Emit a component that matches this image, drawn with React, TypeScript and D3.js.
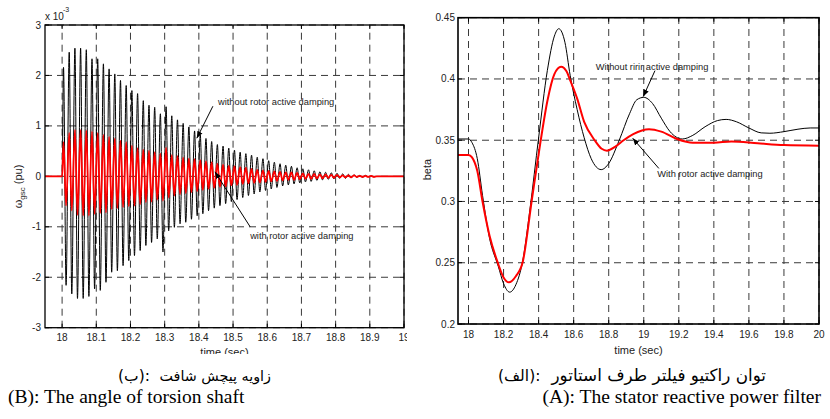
import React, { useLayoutEffect, useRef, useState } from "react";
import * as d3 from "d3";

// ---------- Left panel data (omega_gsc, x 1e-3 pu), one value per oscillation cycle ----------
const BLACK_MAX = [2.16, 2.46, 2.54, 2.54, 2.51, 2.33, 2.33, 2.23, 2.13, 2.03, 1.9, 1.8, 1.7, 1.64, 1.5, 1.41, 1.37, 1.24, 1.38, 1.2, 1.12, 1.05, 0.98, 0.9, 0.82, 0.75, 0.69, 0.63, 0.6, 0.56, 0.52, 0.48, 0.45, 0.42, 0.38, 0.35, 0.31, 0.28, 0.25, 0.22, 0.2, 0.17, 0.15, 0.13, 0.11, 0.09, 0.08, 0.07, 0.06, 0.05, 0.04, 0.03, 0.02, 0.02, 0.01];
const BLACK_MIN = [-2.16, -2.33, -2.42, -2.42, -2.38, -2.23, -2.26, -2.1, -1.9, -1.87, -1.77, -1.67, -1.57, -1.47, -1.37, -1.31, -1.24, -1.5, -1.08, -1.01, -0.94, -0.91, -0.85, -0.78, -0.74, -0.68, -0.63, -0.58, -0.54, -0.5, -0.46, -0.42, -0.38, -0.35, -0.31, -0.28, -0.25, -0.22, -0.19, -0.17, -0.15, -0.13, -0.11, -0.1, -0.08, -0.07, -0.06, -0.05, -0.04, -0.04, -0.03, -0.02, -0.02, -0.01, -0.01];
const RED_MAX = [0.68, 0.86, 0.92, 0.92, 0.91, 0.89, 0.86, 0.82, 0.78, 0.75, 0.71, 0.68, 0.61, 0.56, 0.53, 0.51, 0.48, 0.45, 0.57, 0.42, 0.4, 0.37, 0.35, 0.34, 0.32, 0.3, 0.28, 0.25, 0.23, 0.21, 0.2, 0.18, 0.17, 0.15, 0.13, 0.12, 0.11, 0.1, 0.09, 0.08, 0.08, 0.07, 0.06, 0.05, 0.05, 0.04, 0.04, 0.03, 0.03, 0.02, 0.02, 0.02, 0.01, 0.01, 0.01];
const RED_MIN = [-0.58, -0.68, -0.77, -0.78, -0.78, -0.75, -0.73, -0.72, -0.65, -0.63, -0.61, -0.59, -0.58, -0.55, -0.51, -0.5, -0.46, -0.48, -0.42, -0.38, -0.35, -0.33, -0.31, -0.29, -0.27, -0.25, -0.23, -0.21, -0.2, -0.18, -0.17, -0.15, -0.14, -0.13, -0.12, -0.11, -0.1, -0.09, -0.08, -0.07, -0.07, -0.06, -0.05, -0.05, -0.04, -0.04, -0.03, -0.03, -0.02, -0.02, -0.02, -0.01, -0.01, -0.01, -0.01];
const CYCLE_START = 18.0;
const CYCLE_PERIOD = 1 / 60;

const LEFT_X_TICKS = [18, 18.1, 18.2, 18.3, 18.4, 18.5, 18.6, 18.7, 18.8, 18.9, 19];
const LEFT_Y_TICKS = [-3, -2, -1, 0, 1, 2, 3];

// ---------- Right panel data (beta) ----------
const BETA_BLACK_T = [17.94, 18.0, 18.02, 18.05, 18.08, 18.12, 18.17, 18.2, 18.235, 18.27, 18.31, 18.35, 18.4, 18.45, 18.49, 18.515, 18.55, 18.58, 18.62, 18.66, 18.7, 18.757, 18.8, 18.86, 18.92, 18.96, 19.0, 19.05, 19.1, 19.15, 19.22, 19.28, 19.35, 19.42, 19.47, 19.53, 19.6, 19.67, 19.72, 19.8, 19.88, 19.95, 20.0];
const BETA_BLACK = [0.351, 0.351, 0.348, 0.335, 0.305, 0.27, 0.247, 0.233, 0.226, 0.232, 0.252, 0.293, 0.352, 0.407, 0.435, 0.441, 0.43, 0.403, 0.375, 0.352, 0.335, 0.326, 0.331, 0.35, 0.372, 0.383, 0.385, 0.38, 0.368, 0.357, 0.351, 0.354, 0.361, 0.366, 0.367, 0.365, 0.36, 0.356, 0.3557, 0.357, 0.359, 0.36, 0.36];
const BETA_RED_T = [17.94, 18.0, 18.02, 18.05, 18.08, 18.12, 18.167, 18.2, 18.23, 18.27, 18.31, 18.36, 18.41, 18.45, 18.49, 18.528, 18.56, 18.58, 18.62, 18.66, 18.72, 18.76, 18.79, 18.84, 18.885, 18.94, 19.03, 19.1, 19.19, 19.28, 19.4, 19.5, 19.65, 19.8, 20.0];
const BETA_RED = [0.338, 0.338, 0.336, 0.325, 0.3, 0.272, 0.25, 0.238, 0.234, 0.239, 0.251, 0.3, 0.348, 0.382, 0.404, 0.41, 0.406, 0.399, 0.384, 0.365, 0.35, 0.343, 0.3415, 0.345, 0.35, 0.355, 0.359, 0.357, 0.351, 0.348, 0.348, 0.349, 0.3475, 0.346, 0.3455];

const RIGHT_X_TICKS = [18, 18.2, 18.4, 18.6, 18.8, 19, 19.2, 19.4, 19.6, 19.8, 20];
const RIGHT_Y_TICKS = [0.2, 0.25, 0.3, 0.35, 0.4, 0.45];

const LEFT_NOTE_WITHOUT = "without rotor active damping";
const LEFT_NOTE_WITH = "with rotor active damping";
const RIGHT_NOTE_WITHOUT = "Without ririr active damping";
const RIGHT_NOTE_WITH = "With rotor active damping";

const CAPTION_B_FA_LETTER = "ب";
const CAPTION_B_FA = "زاویه پیچش شافت";
const CAPTION_A_FA_LETTER = "الف";
const CAPTION_A_FA = "توان راکتیو فیلتر طرف استاتور";
const CAPTION_B_EN = "(B): The angle of torsion shaft";
const CAPTION_A_EN = "(A): The stator reactive power filter";

function oscillation(maxs: number[], mins: number[]): [number, number][] {
  const pts: [number, number][] = [[17.95, 0], [CYCLE_START, 0]];
  maxs.forEach((mx, i) => {
    pts.push([CYCLE_START + (i + 0.25) * CYCLE_PERIOD, mx]);
    pts.push([CYCLE_START + (i + 0.7) * CYCLE_PERIOD, mins[i]]);
  });
  pts.push([CYCLE_START + (maxs.length + 0.2) * CYCLE_PERIOD, 0]);
  pts.push([19, 0]);
  return pts;
}

const fmt = (v: number) => `${+v.toFixed(2)}`;
const SANS = "'Liberation Sans', Arial, Helvetica, sans-serif";
const GRID = "#3a3a3a";
const DASH = "7,5";

function FaCaption({ x, endX, y, letter, phrase, size, phraseSize }: { x: number; endX: number; y: number; letter: string; phrase: string; size: number; phraseSize: number }) {
  const openRef = useRef<SVGTextElement>(null);
  const letterRef = useRef<SVGTextElement>(null);
  const [w, setW] = useState<[number, number]>([6, 10]);
  useLayoutEffect(() => {
    if (openRef.current && letterRef.current) {
      setW([openRef.current.getComputedTextLength(), letterRef.current.getComputedTextLength()]);
    }
  }, [letter]);
  return (
    <g>
      <text ref={openRef} x={x} y={y} fontSize={size}>(</text>
      <text ref={letterRef} x={x + w[0]} y={y} fontSize={size}>{letter}</text>
      <text x={x + w[0] + w[1]} y={y} fontSize={size}>):</text>
      <text x={endX} y={y} textAnchor="end" fontSize={phraseSize}>{phrase}</text>
    </g>
  );
}

export default function App() {
  const xL = d3.scaleLinear().domain([17.95, 19]).range([45, 404]);
  const yL = d3.scaleLinear().domain([-3, 3]).range([327.7, 25]);
  const xR = d3.scaleLinear().domain([17.94, 20]).range([458, 819]);
  const yR = d3.scaleLinear().domain([0.2, 0.45]).range([324, 17.7]);

  const lineL = d3.line<[number, number]>().x((d) => xL(d[0])).y((d) => yL(d[1])).curve(d3.curveMonotoneX);
  const lineR = d3.line<[number, number]>().x((d) => xR(d[0])).y((d) => yR(d[1])).curve(d3.curveMonotoneX);

  const blackL = oscillation(BLACK_MAX, BLACK_MIN);
  const redL = oscillation(RED_MAX, RED_MIN);
  const blackR = BETA_BLACK_T.map((t, i) => [t, BETA_BLACK[i]] as [number, number]);
  const redR = BETA_RED_T.map((t, i) => [t, BETA_RED[i]] as [number, number]);

  const [l0, l1] = xL.range();
  const [lb, lt] = yL.range();
  const [r0, r1] = xR.range();
  const [rb, rt] = yR.range();

  return (
    <svg width={830} height={419} style={{ position: "absolute", left: 0, top: 0, background: "#fff" }} fontFamily={SANS}>
      <defs>
        <clipPath id="leftClip">
          <rect x={0} y={0} width={407} height={354} />
        </clipPath>
        <marker id="arr" viewBox="0 0 10 10" refX={10} refY={5} markerWidth={7} markerHeight={7} orient="auto" markerUnits="userSpaceOnUse">
          <path d="M0,1 L10,5 L0,9 Z" fill="#000" />
        </marker>
      </defs>
      <rect x={0} y={0} width={830} height={419} fill="#fff" />

      {/* ===== Left panel ===== */}
      <g clipPath="url(#leftClip)">
        {LEFT_X_TICKS.map((t) => (
          <g key={"lxg" + t}>
            <line x1={xL(t)} x2={xL(t)} y1={lb} y2={lt} stroke={GRID} strokeDasharray={DASH} strokeWidth={1} />
            <line x1={xL(t)} x2={xL(t)} y1={lb} y2={lb - 4} stroke="#000" />
            <line x1={xL(t)} x2={xL(t)} y1={lt} y2={lt + 4} stroke="#000" />
            <text x={xL(t)} y={lb + 13} fontSize={10} textAnchor="middle" fill="#222">{fmt(t)}</text>
          </g>
        ))}
        {LEFT_Y_TICKS.map((v) => (
          <g key={"lyg" + v}>
            <line x1={l0} x2={l1} y1={yL(v)} y2={yL(v)} stroke={GRID} strokeDasharray={DASH} strokeWidth={1} />
            <line x1={l0} x2={l0 + 4} y1={yL(v)} y2={yL(v)} stroke="#000" />
            <line x1={l1} x2={l1 - 4} y1={yL(v)} y2={yL(v)} stroke="#000" />
            <text x={l0 - 4} y={yL(v) + 3.5} fontSize={10} textAnchor="end" fill="#222">{fmt(v)}</text>
          </g>
        ))}
        <path d={lineL(blackL) || ""} fill="none" stroke="#000" strokeWidth={1} />
        <path d={lineL(redL) || ""} fill="none" stroke="#f00" strokeWidth={1.8} />
        <rect x={l0} y={lt} width={l1 - l0} height={lb - lt} fill="none" stroke="#000" strokeWidth={1.3} />

        <text x={l0} y={20} fontSize={10} fill="#222">x 10</text>
        <text x={l0 + 18} y={12} fontSize={7} fill="#222">-3</text>

        <text transform={`translate(22,${yL(-0.2)}) rotate(-90)`} fontSize={11} textAnchor="middle" fill="#222">
          ω<tspan fontSize={8} dy={3}>gsc</tspan><tspan dy={-3}> (pu)</tspan>
        </text>
        <text x={(l0 + l1) / 2} y={356} fontSize={11} textAnchor="middle" fill="#222">time (sec)</text>

        <text x={xL(18.456)} y={yL(1.48) + 3.5} fontSize={9.3} fill="#222">{LEFT_NOTE_WITHOUT}</text>
        <line x1={xL(18.441)} y1={yL(1.39)} x2={xL(18.394)} y2={yL(0.755)} stroke="#000" strokeWidth={1} markerEnd="url(#arr)" />
        <text x={xL(18.55)} y={yL(-1.18) + 3.5} fontSize={9.3} fill="#222">{LEFT_NOTE_WITH}</text>
        <line x1={xL(18.55)} y1={yL(-1.0)} x2={xL(18.447)} y2={yL(0.09)} stroke="#000" strokeWidth={1} markerEnd="url(#arr)" />
      </g>

      {/* ===== Right panel ===== */}
      <g>
        {RIGHT_X_TICKS.map((t) => (
          <g key={"rxg" + t}>
            <line x1={xR(t)} x2={xR(t)} y1={rb} y2={rt} stroke={GRID} strokeDasharray={DASH} strokeWidth={1} />
            <line x1={xR(t)} x2={xR(t)} y1={rb} y2={rb - 4} stroke="#000" />
            <line x1={xR(t)} x2={xR(t)} y1={rt} y2={rt + 4} stroke="#000" />
            <text x={xR(t)} y={rb + 14} fontSize={10} textAnchor="middle" fill="#222">{fmt(t)}</text>
          </g>
        ))}
        {RIGHT_Y_TICKS.map((v) => (
          <g key={"ryg" + v}>
            <line x1={r0} x2={r1} y1={yR(v)} y2={yR(v)} stroke={GRID} strokeDasharray={DASH} strokeWidth={1} />
            <line x1={r0} x2={r0 + 4} y1={yR(v)} y2={yR(v)} stroke="#000" />
            <line x1={r1} x2={r1 - 4} y1={yR(v)} y2={yR(v)} stroke="#000" />
            <text x={r0 - 3} y={yR(v) + 3.5} fontSize={10} textAnchor="end" fill="#222">{fmt(v)}</text>
          </g>
        ))}
        <path d={lineR(blackR) || ""} fill="none" stroke="#000" strokeWidth={1} />
        <path d={lineR(redR) || ""} fill="none" stroke="#f00" strokeWidth={2} />
        <rect x={r0} y={rt} width={r1 - r0} height={rb - rt} fill="none" stroke="#000" strokeWidth={1.6} />

        <text transform={`translate(431,${yR(0.326)}) rotate(-90)`} fontSize={11} textAnchor="middle" fill="#222">beta</text>
        <text x={(r0 + r1) / 2} y={354} fontSize={11} textAnchor="middle" fill="#222">time (sec)</text>

        <text x={xR(18.726)} y={yR(0.41) + 3.5} fontSize={9.3} fill="#222">{RIGHT_NOTE_WITHOUT}</text>
        <line x1={xR(19.064)} y1={yR(0.4068)} x2={xR(18.997)} y2={yR(0.3856)} stroke="#000" strokeWidth={1} markerEnd="url(#arr)" />
        <text x={xR(19.077)} y={yR(0.323) + 3.5} fontSize={9.3} fill="#222">{RIGHT_NOTE_WITH}</text>
        <line x1={xR(19.086)} y1={yR(0.327)} x2={xR(18.937)} y2={yR(0.3516)} stroke="#000" strokeWidth={1} markerEnd="url(#arr)" />
      </g>

      {/* ===== Captions ===== */}
      <g fontFamily="'DejaVu Sans', serif" fill="#000">
        <FaCaption x={118} endX={271} y={381} letter={CAPTION_B_FA_LETTER} phrase={CAPTION_B_FA} size={15.5} phraseSize={14.3} />
        <FaCaption x={498} endX={766} y={381} letter={CAPTION_A_FA_LETTER} phrase={CAPTION_A_FA} size={15.5} phraseSize={16.8} />
      </g>
      <g fontFamily="'Liberation Serif', 'Times New Roman', serif" fill="#000" fontSize={19.5}>
        <text x={8} y={403}>{CAPTION_B_EN}</text>
        <text x={821} y={403} textAnchor="end">{CAPTION_A_EN}</text>
      </g>
    </svg>
  );
}
